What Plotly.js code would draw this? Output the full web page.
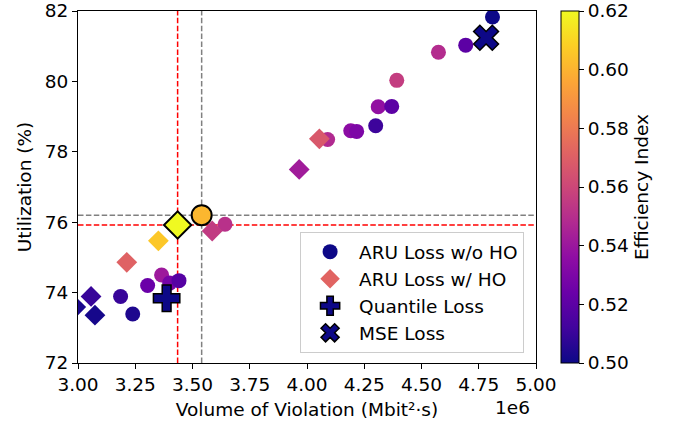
<!DOCTYPE html>
<html>
<head>
<meta charset="utf-8">
<script src="https://cdn.plot.ly/plotly-3.0.1.min.js"></script>
<style>html,body{margin:0;padding:0;background:#fff;}#chart{width:677px;height:424px;}</style>
</head>
<body>
<div id="chart"></div>
<script>
// ARU Loss w/o HO (circles): violation volume (x 1e6), utilization (%), efficiency index
const woX   = [3.186, 3.239, 3.304, 3.365, 3.400, 3.441, 3.540, 3.642, 4.090, 4.191, 4.217, 4.300, 4.311, 4.370, 4.392, 4.574, 4.693, 4.810];
const woY   = [73.89, 73.39, 74.20, 74.50, 74.27, 74.34, 76.20, 75.94, 78.35, 78.60, 78.58, 78.74, 79.28, 79.29, 80.03, 80.83, 81.03, 81.83];
const woEff = [0.510, 0.504, 0.524, 0.541, 0.528, 0.518, 0.601, 0.551, 0.548, 0.535, 0.530, 0.511, 0.537, 0.520, 0.556, 0.549, 0.520, 0.500];

// ARU Loss w/ HO (diamonds)
const wX   = [2.990, 3.057, 3.074, 3.213, 3.351, 3.435, 3.586, 3.966, 4.054];
const wY   = [73.59, 73.89, 73.36, 74.86, 75.47, 75.92, 75.75, 77.50, 78.37];
const wEff = [0.503, 0.510, 0.502, 0.571, 0.606, 0.620, 0.555, 0.542, 0.567];

// Baselines
const quantX = [3.387], quantY = [73.84], quantEff = [0.500];
const mseX   = [4.782], mseY   = [81.24], mseEff   = [0.500];

const xTicks = [3.00, 3.25, 3.50, 3.75, 4.00, 4.25, 4.50, 4.75, 5.00];
const yTicks = [72, 74, 76, 78, 80, 82];
const cTicks = [0.50, 0.52, 0.54, 0.56, 0.58, 0.60, 0.62];

const plasma = [
  [0.0,'#0d0887'],[0.1,'#41049d'],[0.2,'#6a00a8'],[0.3,'#8f0da4'],[0.4,'#b12a90'],
  [0.5,'#cc4778'],[0.6,'#e16462'],[0.7,'#f2844b'],[0.8,'#fca636'],[0.9,'#fcce25'],[1.0,'#f0f921']
];
const cmin = 0.50, cmax = 0.62;
const FONT = 'DejaVu Sans';
const FS = 18.5;

function argmax(a){ let k=0; for(let i=1;i<a.length;i++) if(a[i]>a[k]) k=i; return k; }
const bWo = argmax(woEff), bW = argmax(wEff);

const cs = {colorscale: plasma, cmin: cmin, cmax: cmax};

const traces = [
  {x: woX, y: woY, type:'scatter', mode:'markers', showlegend:false, hoverinfo:'skip',
   marker: Object.assign({symbol:'circle', size:15, color: woEff, line:{width:0}, showscale:true,
     colorbar:{x:1.0546, xanchor:'left', xpad:0, ypad:0, y:0.5, yanchor:'middle', len:1, lenmode:'fraction',
       thickness:18, thicknessmode:'pixels', outlinecolor:'#000', outlinewidth:1,
       tickvals: cTicks, tickformat:'.2f', ticks:'outside', ticklen:5, tickcolor:'#000',
       ticklabeloverflow:'allow',
       tickfont:{family:FONT, size:FS, color:'#000'},
       title:{text:'Efficiency Index', side:'right', font:{family:FONT, size:FS, color:'#000'}}}}, cs)},
  {x: wX, y: wY, type:'scatter', mode:'markers', showlegend:false, hoverinfo:'skip',
   marker: Object.assign({symbol:'diamond', size:16, color: wEff, line:{width:0}}, cs)},
  {x: quantX, y: quantY, type:'scatter', mode:'markers', showlegend:false, hoverinfo:'skip',
   marker: Object.assign({symbol:'cross', size:22, color: quantEff, line:{width:1.5, color:'#000'}}, cs)},
  {x: mseX, y: mseY, type:'scatter', mode:'markers', showlegend:false, hoverinfo:'skip',
   marker: Object.assign({symbol:'x', size:22, color: mseEff, line:{width:1.5, color:'#000'}}, cs)},
  // highlighted best points
  {x: [woX[bWo]], y: [woY[bWo]], type:'scatter', mode:'markers', showlegend:false, hoverinfo:'skip',
   marker: Object.assign({symbol:'circle', size:20, color: [woEff[bWo]], line:{width:2, color:'#000'}}, cs)},
  {x: [wX[bW]], y: [wY[bW]], type:'scatter', mode:'markers', showlegend:false, hoverinfo:'skip',
   marker: Object.assign({symbol:'diamond', size:21, color: [wEff[bW]], line:{width:2, color:'#000'}}, cs)},
  // legend entries
  {x:[null], y:[null], type:'scatter', mode:'markers', name:'ARU Loss w/o HO',
   marker:{symbol:'circle', size:15, color:'#0d0887', line:{width:0}}},
  {x:[null], y:[null], type:'scatter', mode:'markers', name:'ARU Loss w/ HO',
   marker:{symbol:'diamond', size:15, color:'#e16462', line:{width:0}}},
  {x:[null], y:[null], type:'scatter', mode:'markers', name:'Quantile Loss',
   marker:{symbol:'cross', size:16, color:'#0d0887', line:{width:1.5, color:'#000'}}},
  {x:[null], y:[null], type:'scatter', mode:'markers', name:'MSE Loss',
   marker:{symbol:'x', size:16, color:'#0d0887', line:{width:1.5, color:'#000'}}}
];

const dashPat = '5.5px,2.4px';
const shapes = [
  {type:'line', xref:'x', yref:'paper', x0: wX[bW], x1: wX[bW], y0:0, y1:1, layer:'below', line:{color:'#ff0000', width:1.5, dash:dashPat}},
  {type:'line', xref:'paper', yref:'y', x0:0, x1:1, y0: wY[bW], y1: wY[bW], layer:'below', line:{color:'#ff0000', width:1.5, dash:dashPat}},
  {type:'line', xref:'x', yref:'paper', x0: woX[bWo], x1: woX[bWo], y0:0, y1:1, layer:'below', line:{color:'#808080', width:1.5, dash:dashPat}},
  {type:'line', xref:'paper', yref:'y', x0:0, x1:1, y0: woY[bWo], y1: woY[bWo], layer:'below', line:{color:'#808080', width:1.5, dash:dashPat}}
];

const axisCommon = {showgrid:false, zeroline:false, showline:true, linecolor:'#000', linewidth:1,
  mirror:true, ticks:'outside', ticklen:5, tickcolor:'#000', tickwidth:1, ticklabeloverflow:'allow',
  tickfont:{family:FONT, size:FS, color:'#000'}};

const layout = {
  width:677, height:424,
  margin:{l:78, r:141, t:11, b:61},
  paper_bgcolor:'#fff', plot_bgcolor:'#fff',
  font:{family:FONT, size:FS, color:'#000'},
  xaxis: Object.assign({}, axisCommon, {range:[3,5], tickvals:xTicks, tickformat:'.2f',
    title:{text:'Volume of Violation (Mbit²·s)', font:{family:FONT, size:FS, color:'#000'}, standoff:8}}),
  yaxis: Object.assign({}, axisCommon, {range:[72,82], tickvals:yTicks,
    title:{text:'Utilization (%)', font:{family:FONT, size:FS, color:'#000'}, standoff:8}}),
  shapes: shapes,
  showlegend:true,
  legend:{x:0.974, xanchor:'right', y:0.028, yanchor:'bottom', bgcolor:'rgba(255,255,255,0.8)',
    bordercolor:'#cccccc', borderwidth:1, itemwidth:48, itemsizing:'trace',
    font:{family:FONT, size:FS, color:'#000'}},
  annotations:[{text:'1e6', xref:'paper', yref:'paper', x:0.991, y:-0.125, xanchor:'right', yanchor:'middle',
    showarrow:false, font:{family:FONT, size:FS, color:'#000'}}]
};

Plotly.newPlot('chart', traces, layout, {displayModeBar:false, staticPlot:true});
</script>
</body>
</html>
